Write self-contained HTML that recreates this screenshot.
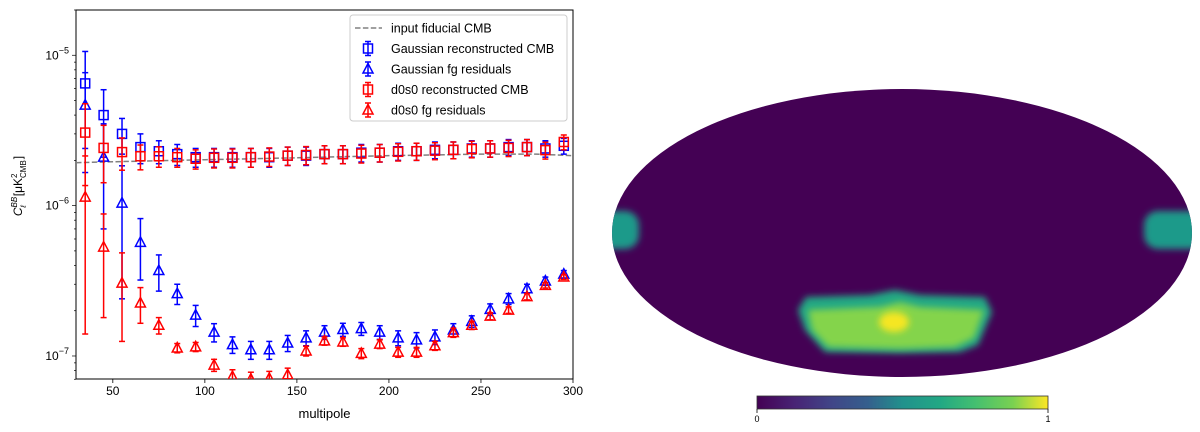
<!DOCTYPE html>
<html><head><meta charset="utf-8">
<style>
body{margin:0;background:#fff;width:1200px;height:432px;overflow:hidden;font-family:"Liberation Sans","DejaVu Sans",sans-serif}
svg{position:absolute;left:0;top:0}
</style></head>
<body>
<svg id="chart" width="1200" height="432" xmlns="http://www.w3.org/2000/svg">
<defs>
<clipPath id="plotclip"><rect x="76" y="10" width="497" height="369"/></clipPath>
<clipPath id="mapclip"><ellipse cx="902" cy="233" rx="290" ry="144"/></clipPath>
<filter id="blur" x="-50%" y="-50%" width="200%" height="200%"><feGaussianBlur stdDeviation="3.5"/></filter>
<filter id="blur2" x="-50%" y="-50%" width="200%" height="200%"><feGaussianBlur stdDeviation="6"/></filter>
<linearGradient id="viridis" x1="0" x2="1" y1="0" y2="0">
<stop offset="0" stop-color="#440154"/><stop offset="0.13" stop-color="#482475"/><stop offset="0.25" stop-color="#414487"/><stop offset="0.38" stop-color="#355f8d"/><stop offset="0.5" stop-color="#21918c"/><stop offset="0.63" stop-color="#22a884"/><stop offset="0.75" stop-color="#44bf70"/><stop offset="0.88" stop-color="#7ad151"/><stop offset="1" stop-color="#fde725"/>
</linearGradient>
</defs>
<g id="axes"></g>
<g id="marks" clip-path="url(#plotclip)"></g>
<g id="legend"></g>
<g>
<g clip-path="url(#mapclip)">
<rect x="600" y="80" width="600" height="310" fill="#440154"/>
<rect x="590" y="211" width="49" height="38" rx="14" fill="#1f9a8a" filter="url(#blur)"/>
<rect x="1144" y="211" width="60" height="38" rx="14" fill="#1f9a8a" filter="url(#blur)"/>
<path d="M806 297 L870 295 L895 290 L920 295 L985 297 L992 312 L978 345 L960 352 L900 353 L825 352 L805 330 L798 310 Z" fill="#23a884" filter="url(#blur)"/>
<path d="M808 310 L880 307 L900 302 L920 307 L984 310 L974 338 L955 347 L900 349 L828 347 L812 330 Z" fill="#84d44b" filter="url(#blur)"/>
<ellipse cx="894" cy="322" rx="15" ry="10" fill="#f5e624" filter="url(#blur)"/>
</g>
</g>
<g>
<rect x="757" y="396" width="291" height="13" fill="url(#viridis)" stroke="#333" stroke-width="0.8"/>
<line x1="757" y1="409" x2="757" y2="413" stroke="#000" stroke-width="0.8"/>
<line x1="1048" y1="409" x2="1048" y2="413" stroke="#000" stroke-width="0.8"/>
<text x="757" y="422" font-size="9" text-anchor="middle">0</text>
<text x="1048" y="422" font-size="9" text-anchor="middle">1</text>
</g>
</svg>
<script>
const ells=[35,45,55,65,75,85,95,105,115,125,135,145,155,165,175,185,195,205,215,225,235,245,255,265,275,285,295];
const fidL=[30,60,100,150,200,250,280,300];
const fidV=[1.93e-6,1.97e-6,2.02e-6,2.08e-6,2.15e-6,2.2e-6,2.2e-6,2.15e-6];
const gCmb=[6.5,4.0,3.0,2.45,2.3,2.2,2.1,2.1,2.1,2.1,2.1,2.15,2.15,2.2,2.2,2.25,2.25,2.3,2.3,2.35,2.35,2.4,2.4,2.45,2.45,2.4,2.5];
const gCmbErr=[4.1,1.9,0.8,0.55,0.4,0.35,0.3,0.3,0.3,0.3,0.3,0.3,0.3,0.3,0.3,0.3,0.3,0.3,0.3,0.3,0.3,0.3,0.3,0.3,0.3,0.3,0.3];
const dCmb=[3.06,2.42,2.27,2.13,2.13,2.1,2.05,2.08,2.08,2.1,2.12,2.15,2.17,2.2,2.2,2.22,2.25,2.28,2.3,2.32,2.35,2.38,2.4,2.42,2.45,2.34,2.65];
const dCmbErr=[1.7,1.0,0.55,0.4,0.33,0.3,0.3,0.3,0.3,0.3,0.3,0.3,0.3,0.3,0.3,0.3,0.3,0.3,0.3,0.3,0.3,0.3,0.3,0.3,0.3,0.3,0.3];
const gFg=[4.66,2.1,1.04,0.57,0.37,0.26,0.187,0.144,0.119,0.11,0.11,0.122,0.132,0.144,0.15,0.152,0.144,0.132,0.128,0.134,0.149,0.17,0.204,0.24,0.28,0.315,0.35];
const gFgErr=[3.0,1.4,0.8,0.25,0.1,0.04,0.03,0.02,0.015,0.015,0.015,0.015,0.015,0.015,0.015,0.015,0.015,0.015,0.015,0.015,0.015,0.015,0.018,0.02,0.02,0.02,0.02];
const dFg=[1.14,0.53,0.305,0.225,0.16,0.113,0.115,0.087,0.073,0.07,0.071,0.075,0.108,0.126,0.124,0.104,0.12,0.106,0.106,0.117,0.143,0.16,0.184,0.202,0.248,0.295,0.335];
const dFgErr=[1.0,0.35,0.18,0.06,0.02,0.008,0.008,0.008,0.008,0.008,0.008,0.008,0.008,0.008,0.008,0.008,0.008,0.008,0.008,0.008,0.01,0.01,0.01,0.01,0.012,0.012,0.012];
const xTicks=[50,100,150,200,250,300];
const yTicks=[-7,-6,-5];

const NS="http://www.w3.org/2000/svg";
const X0=76,X1=573,Y0=10,Y1=379,XMIN=30,XMAX=300,LMIN=Math.log10(7.03e-8),LMAX=Math.log10(2.0e-5);
function xs(v){return X0+(v-XMIN)/(XMAX-XMIN)*(X1-X0);}
function ys(v){return Y1-(Math.log10(v)-LMIN)/(LMAX-LMIN)*(Y1-Y0);}
function mk(tag,attrs,parent,text){const e=document.createElementNS(NS,tag);for(const k in attrs)e.setAttribute(k,attrs[k]);if(text!==undefined)e.textContent=text;parent.appendChild(e);return e;}
const axes=document.getElementById('axes'),marks=document.getElementById('marks'),leg=document.getElementById('legend');

let fr=mk('rect',{x:X0,y:Y0,width:X1-X0,height:Y1-Y0,fill:'none',stroke:'#000','stroke-width':1},axes);


xTicks.forEach(t=>{const x=xs(t);
 mk('line',{x1:x,y1:Y1,x2:x,y2:Y1+4,stroke:'#000','stroke-width':0.8},axes);
 const tx=mk('text',{x:x,y:Y1+16,'font-size':12,'text-anchor':'middle'},axes,String(t));
 
 
});
for(let d=-8;d<=-5;d++){for(let m=1;m<10;m++){const v=m*Math.pow(10,d);const y=ys(v);if(y<Y0-0.5||y>Y1+0.5)continue;
 mk('line',{x1:X0-(m===1?4:2),y1:y,x2:X0,y2:y,stroke:'#000','stroke-width':0.7},axes);}}
yTicks.forEach(e=>{const y=ys(Math.pow(10,e));
 const t=mk('text',{x:X0-7,y:y+4,'font-size':12,'text-anchor':'end'},axes);
 
 
 mk('tspan',{},t,'10');mk('tspan',{dy:-6,'font-size':9},t,'−'+(-e));
});
const xl=mk('text',{x:(X0+X1)/2,y:418,'font-size':13,'text-anchor':'middle'},axes,'multipole');


const yl=mk('text',{transform:'translate(22,186) rotate(-90)','font-size':12,'text-anchor':'middle'},axes);


mk('tspan',{'font-style':'italic'},yl,'C');
mk('tspan',{dy:-5,'font-size':8,'font-style':'italic'},yl,'BB');
mk('tspan',{dx:-11,dy:9,'font-size':8,'font-style':'italic'},yl,'ℓ');
mk('tspan',{dx:9,dy:-4},yl,'[μK');
mk('tspan',{dy:-5,'font-size':8},yl,'2');
mk('tspan',{dx:-4.5,dy:9,'font-size':8},yl,'CMB');
mk('tspan',{dx:1,dy:-4},yl,']');

let fd='';fidL.forEach((l,i)=>{fd+=(i?'L':'M')+xs(l)+' '+ys(fidV[i]);});
const fl=mk('path',{d:fd,fill:'none',stroke:'#808080','stroke-width':1.5,'stroke-dasharray':'5.5,2.4'},marks);



function series(vals,errs,scale,color,shape,name){
 const g=mk('g',{},marks);
 
 
 ells.forEach((l,i)=>{const v=vals[i]*scale,e=errs[i]*scale;const x=xs(l);
  const y=ys(v),yt=ys(v+e),yb=ys(Math.max(v-e,1e-9));
  mk('line',{x1:x,y1:yt,x2:x,y2:Math.min(yb,Y1+20),stroke:color,'stroke-width':1.5},g);
  mk('line',{x1:x-3,y1:yt,x2:x+3,y2:yt,stroke:color,'stroke-width':1.5},g);
  if(yb<Y1+5)mk('line',{x1:x-3,y1:yb,x2:x+3,y2:yb,stroke:color,'stroke-width':1.5},g);
  let m;
  if(shape==='s')m=mk('rect',{x:x-4.5,y:y-4.5,width:9,height:9,fill:'none',stroke:color,'stroke-width':1.5},g);
  else m=mk('path',{d:`M${x} ${y-5.5}L${x+5} ${y+4}L${x-5} ${y+4}Z`,fill:'none',stroke:color,'stroke-width':1.5},g);
  
  
 });
}
series(gFg,gFgErr,1e-6,'#0000ff','t','gaussian-fg-residuals');
series(dFg,dFgErr,1e-6,'#ff0000','t','d0s0-fg-residuals');
series(gCmb,gCmbErr,1e-6,'#0000ff','s','gaussian-reconstructed-cmb');
series(dCmb,dCmbErr,1e-6,'#ff0000','s','d0s0-reconstructed-cmb');

const lb=mk('rect',{x:350,y:15,width:217,height:106,rx:3,fill:'#fff','fill-opacity':0.8,stroke:'#ccc'},leg);


const entries=[['input fiducial CMB','#808080','l'],['Gaussian reconstructed CMB','#0000ff','s'],['Gaussian fg residuals','#0000ff','t'],['d0s0 reconstructed CMB','#ff0000','s'],['d0s0 fg residuals','#ff0000','t']];
entries.forEach((en,i)=>{const y=28+i*20.5;const x=368;
 const g=mk('g',{},leg);
 
 
 if(en[2]==='l')mk('line',{x1:355,y1:y,x2:382,y2:y,stroke:en[1],'stroke-width':1.5,'stroke-dasharray':'5.5,2.4'},g);
 else{mk('line',{x1:x,y1:y-7,x2:x,y2:y+7,stroke:en[1],'stroke-width':1.5},g);
  mk('line',{x1:x-3,y1:y-7,x2:x+3,y2:y-7,stroke:en[1],'stroke-width':1.5},g);
  mk('line',{x1:x-3,y1:y+7,x2:x+3,y2:y+7,stroke:en[1],'stroke-width':1.5},g);
  if(en[2]==='s')mk('rect',{x:x-4.5,y:y-4.5,width:9,height:9,fill:'none',stroke:en[1],'stroke-width':1.5},g);
  else mk('path',{d:`M${x} ${y-5.5}L${x+5} ${y+4}L${x-5} ${y+4}Z`,fill:'none',stroke:en[1],'stroke-width':1.5},g);}
 mk('text',{x:391,y:y+4.5,'font-size':12.5},g,en[0]);
});
</script>
</body></html>
